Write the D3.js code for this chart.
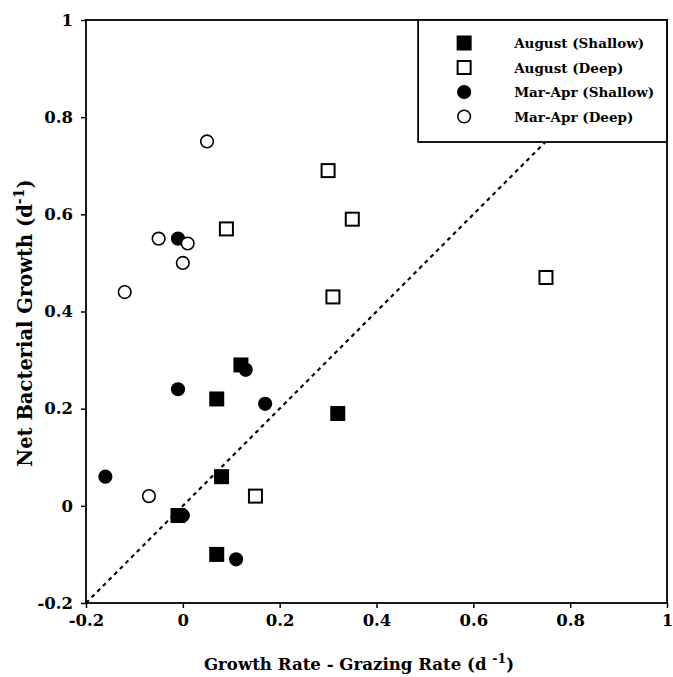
<!DOCTYPE html>
<html>
<head>
<meta charset="utf-8">
<script src="https://cdn.jsdelivr.net/npm/d3@7"></script>
<style>
  body { margin: 0; background: #fff; }
  svg text { font-family: "DejaVu Serif", serif; fill: #000; }
</style>
</head>
<body>
<div id="chart"></div>
<script>
// data
var augShallow = [[0.07, 0.22], [0.12, 0.29], [0.32, 0.19], [0.08, 0.06], [-0.01, -0.02], [0.07, -0.10]];
var augDeep = [[0.30, 0.69], [0.35, 0.59], [0.09, 0.57], [0.31, 0.43], [0.75, 0.47], [0.15, 0.02]];
var marShallow = [[-0.01, 0.55], [0.13, 0.28], [-0.01, 0.24], [0.17, 0.21], [-0.16, 0.06], [0.00, -0.02], [0.11, -0.11]];
var marDeep = [[0.05, 0.75], [-0.05, 0.55], [0.01, 0.54], [0.00, 0.50], [-0.12, 0.44], [-0.07, 0.02]];
var legendLabels = ["August (Shallow)", "August (Deep)", "Mar-Apr (Shallow)", "Mar-Apr (Deep)"];
var xTicks = [-0.2, 0, 0.2, 0.4, 0.6, 0.8, 1];
var yTicks = [-0.2, 0, 0.2, 0.4, 0.6, 0.8, 1];
var oneToOne = [[-0.2, -0.2], [1, 1]];

var svgWidth = 673;
var svgHeight = 677;
var margin = { top: 20, right: 6, bottom: 74, left: 86 };
var width = svgWidth - margin.left - margin.right;
var height = svgHeight - margin.top - margin.bottom;

var svg = d3.select("#chart").append("svg")
    .attr("width", svgWidth)
    .attr("height", svgHeight);

var g = svg.append("g")
    .attr("transform", `translate(${margin.left}, ${margin.top})`);

var x = d3.scaleLinear().domain([-0.2, 1]).range([0, width]);
var y = d3.scaleLinear().domain([-0.2, 1]).range([height, 0]);

// plain hyphen for negatives, like the original
var fmt = d => d === 0 ? "0" : (d === 1 ? "1" : d.toFixed(1));

var xAxis = g.append("g")
    .attr("transform", `translate(0, ${height})`)
    .call(d3.axisBottom(x).tickValues(xTicks).tickFormat(fmt).tickSize(5).tickPadding(6));
var yAxis = g.append("g")
    .call(d3.axisLeft(y).tickValues(yTicks).tickFormat(fmt).tickSize(5).tickPadding(8));

[xAxis, yAxis].forEach(function(a) {
    a.select(".domain").remove();
    a.selectAll("line").attr("stroke", "#000").attr("stroke-width", 1.5);
    a.selectAll("text").attr("font-size", "16.5px").attr("font-weight", "bold")
        .attr("font-family", "DejaVu Serif, serif");
});

// frame
g.append("rect")
    .attr("width", width).attr("height", height)
    .attr("fill", "none").attr("stroke", "#000").attr("stroke-width", 1.8);

// 1:1 line
g.append("path")
    .attr("d", d3.line().x(d => x(d[0])).y(d => y(d[1]))(oneToOne))
    .attr("fill", "none").attr("stroke", "#000")
    .attr("stroke-width", 2.2).attr("stroke-dasharray", "4,4");

var s = 13;
function squares(data, fill) {
    g.selectAll(null).data(data).enter().append("rect")
        .attr("x", d => x(d[0]) - s / 2)
        .attr("y", d => y(d[1]) - s / 2)
        .attr("width", s).attr("height", s)
        .attr("fill", fill).attr("stroke", "#000").attr("stroke-width", 2);
}
function circles(data, fill) {
    g.selectAll(null).data(data).enter().append("circle")
        .attr("cx", d => x(d[0]))
        .attr("cy", d => y(d[1]))
        .attr("r", 6.3)
        .attr("fill", fill).attr("stroke", "#000").attr("stroke-width", 1.6);
}
squares(augShallow, "#000");
circles(marShallow, "#000");
squares(augDeep, "#fff");
circles(marDeep, "#fff");

// legend
var lg = g.append("g").attr("transform", `translate(${x(0.486)}, 0)`);
lg.append("rect")
    .attr("width", width - x(0.486)).attr("height", 122)
    .attr("fill", "#fff").attr("stroke", "#000").attr("stroke-width", 1.8);
var kinds = [["sq", "#000"], ["sq", "#fff"], ["ci", "#000"], ["ci", "#fff"]];
kinds.forEach(function(k, i) {
    var cy = 23 + i * 24.5;
    if (k[0] === "sq") {
        lg.append("rect").attr("x", 46 - s / 2).attr("y", cy - s / 2)
            .attr("width", s).attr("height", s)
            .attr("fill", k[1]).attr("stroke", "#000").attr("stroke-width", 2);
    } else {
        lg.append("circle").attr("cx", 46).attr("cy", cy).attr("r", 6.3)
            .attr("fill", k[1]).attr("stroke", "#000").attr("stroke-width", 1.6);
    }
    lg.append("text").attr("x", 96).attr("y", cy + 5)
        .attr("font-size", "13.5px").attr("font-weight", "bold")
        .text(legendLabels[i]);
});

// axis titles
var xt = svg.append("text")
    .attr("x", 359).attr("y", 670)
    .attr("text-anchor", "middle")
    .attr("font-size", "16.6px").attr("font-weight", "bold");
xt.append("tspan").text("Growth Rate - Grazing Rate (d ");
xt.append("tspan").attr("dy", -7).attr("font-size", "12.5px").text("-1");
xt.append("tspan").attr("dy", 7).text(")");

var yt = svg.append("text")
    .attr("transform", "translate(32, 323) rotate(-90)")
    .attr("text-anchor", "middle")
    .attr("font-size", "19.5px").attr("font-weight", "bold");
yt.append("tspan").text("Net Bacterial Growth (d");
yt.append("tspan").attr("dy", -8).attr("font-size", "14px").text("-1");
yt.append("tspan").attr("dy", 8).text(")");
</script>
</body>
</html>
